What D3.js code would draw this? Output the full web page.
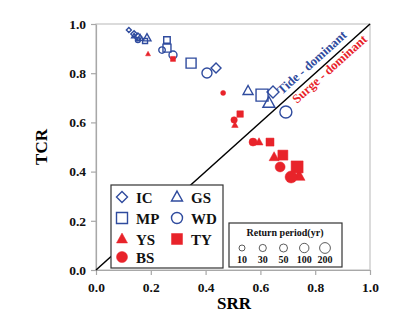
<!DOCTYPE html>
<html>
<head>
<meta charset="utf-8">
<script src="https://cdn.jsdelivr.net/npm/d3@7"></script>
<style>
  body { margin: 0; background: #fff; }
  text { font-family: "Liberation Serif", "Times New Roman", serif; font-weight: bold; }
</style>
</head>
<body>
<div id="chart"></div>
<script>
// return periods (yr) shared by every series, smallest marker first
const periods = [10, 30, 50, 100, 200];

// SRR / TCR pairs per sea area, ordered by return period
const icSRR = [0.120, 0.139, 0.153, 0.438, 0.646];
const icTCR = [0.976, 0.959, 0.947, 0.821, 0.724];
const gsSRR = [0.139, 0.161, 0.186, 0.555, 0.631];
const gsTCR = [0.951, 0.943, 0.943, 0.728, 0.679];
const mpSRR = [0.179, 0.259, 0.259, 0.347, 0.606];
const mpTCR = [0.931, 0.935, 0.902, 0.841, 0.711];
const wdSRR = [0.153, 0.241, 0.281, 0.405, 0.693];
const wdTCR = [0.935, 0.894, 0.874, 0.801, 0.642];
const ysSRR = [0.190, 0.507, 0.595, 0.650, 0.741];
const ysTCR = [0.878, 0.589, 0.520, 0.459, 0.382];
const tySRR = [0.281, 0.526, 0.635, 0.682, 0.734];
const tyTCR = [0.858, 0.634, 0.520, 0.467, 0.419];
const bsSRR = [0.464, 0.504, 0.573, 0.672, 0.712];
const bsTCR = [0.720, 0.610, 0.520, 0.419, 0.378];

const ticks = [0, 0.2, 0.4, 0.6, 0.8, 1.0];

const blue = "#2f4b9e", red = "#e8232a";
const series = [
  {name: "IC", shape: "diamond", color: blue, fill: false, x: icSRR, y: icTCR},
  {name: "GS", shape: "triangle", color: blue, fill: false, x: gsSRR, y: gsTCR},
  {name: "MP", shape: "square", color: blue, fill: false, x: mpSRR, y: mpTCR},
  {name: "WD", shape: "circle", color: blue, fill: false, x: wdSRR, y: wdTCR},
  {name: "YS", shape: "triangle", color: red, fill: true, x: ysSRR, y: ysTCR},
  {name: "TY", shape: "square", color: red, fill: true, x: tySRR, y: tyTCR},
  {name: "BS", shape: "circle", color: red, fill: true, x: bsSRR, y: bsTCR}
];

const W = 400, H = 324;
const L = 96, R = 370, T = 24, B = 270;

const x = d3.scaleLinear().domain([0, 1]).range([L, R]);
const y = d3.scaleLinear().domain([0, 1]).range([B, T]);
const size = d3.scaleOrdinal().domain(periods).range([5, 6.5, 8, 10, 12]);

// path for a marker of visual width w
function shapePath(shape, w) {
  if (shape === "circle") return d3.symbol(d3.symbolCircle, Math.PI * w * w / 4)();
  if (shape === "square") return d3.symbol(d3.symbolSquare, w * w)();
  if (shape === "diamond") {
    const h = w / 2;
    return `M0,${-h}L${h},0L0,${h}L${-h},0Z`;
  }
  const h = w * 0.9;
  return `M0,${-h * 0.6}L${w / 2},${h * 0.4}L${-w / 2},${h * 0.4}Z`;
}

const svg = d3.select("#chart").append("svg")
  .attr("width", W).attr("height", H);

// frame
svg.append("rect")
  .attr("x", L).attr("y", T).attr("width", R - L).attr("height", B - T)
  .attr("fill", "none").attr("stroke", "#c4c4c4").attr("stroke-width", 1.2);

const xAxis = svg.append("g")
  .attr("transform", `translate(0,${B})`)
  .call(d3.axisBottom(x).tickValues(ticks).tickFormat(d3.format(".1f")).tickSizeOuter(0).tickSizeInner(5));
const yAxis = svg.append("g")
  .attr("transform", `translate(${L},0)`)
  .call(d3.axisLeft(y).tickValues(ticks).tickFormat(d3.format(".1f")).tickSizeOuter(0).tickSizeInner(5));

[xAxis, yAxis].forEach(g => {
  g.select(".domain").attr("stroke", "#a8a8a8").attr("stroke-width", 1.2);
  g.selectAll(".tick line").attr("stroke", "#a8a8a8").attr("stroke-width", 1.2);
  g.selectAll(".tick text").attr("fill", "#111")
    .style("font-size", "13.5px").style("font-family", "Liberation Serif").style("font-weight", "bold");
});
xAxis.selectAll(".tick text").attr("dy", "1.05em").attr("y", 8);
yAxis.selectAll(".tick text").attr("x", -10);

svg.append("text").attr("x", (L + R) / 2 + 1).attr("y", 309)
  .attr("text-anchor", "middle").attr("font-size", 17).text("SRR");
svg.append("text").attr("transform", `translate(47,${(T + B) / 2}) rotate(-90)`)
  .attr("text-anchor", "middle").attr("font-size", 17).text("TCR");

// 1:1 line
svg.append("line")
  .attr("x1", x(0)).attr("y1", y(0)).attr("x2", x(1)).attr("y2", y(1))
  .attr("stroke", "#000").attr("stroke-width", 1.5);

const ang = Math.atan2(B - T, R - L) * 180 / Math.PI;
svg.append("text").attr("transform", `translate(282,95) rotate(${-ang})`)
  .attr("fill", blue).attr("font-size", 12.8).text("Tide - dominant");
svg.append("text").attr("transform", `translate(297,104) rotate(${-ang})`)
  .attr("fill", red).attr("font-size", 12.8).text("Surge - dominant");

// points
series.forEach(s => {
  svg.append("g").selectAll("path")
    .data(periods.map((p, i) => ({p, sx: s.x[i], ty: s.y[i]})))
    .join("path")
    .attr("transform", d => `translate(${x(d.sx)},${y(d.ty)})`)
    .attr("d", d => shapePath(s.shape, size(d.p)))
    .attr("fill", s.fill ? s.color : "none")
    .attr("stroke", s.color)
    .attr("stroke-width", s.fill ? 0.5 : 1.4);
});

// legend of sea areas
const lg = svg.append("g");
lg.append("rect").attr("x", 111).attr("y", 185).attr("width", 112).attr("height", 83)
  .attr("fill", "#fff").attr("stroke", "#333").attr("stroke-width", 1.2);
const legendPos = {
  IC: [122, 197], GS: [177, 197], MP: [122, 218], WD: [177, 218],
  YS: [122, 239], TY: [177, 239], BS: [122, 257]
};
series.forEach(s => {
  const [lx, ly] = legendPos[s.name];
  lg.append("path").attr("transform", `translate(${lx},${ly})`)
    .attr("d", shapePath(s.shape, 11))
    .attr("fill", s.fill ? s.color : "none")
    .attr("stroke", s.color).attr("stroke-width", s.fill ? 0.5 : 1.4);
  lg.append("text").attr("x", lx + 14).attr("y", ly + 5.5)
    .attr("font-size", 15).attr("fill", "#111").text(s.name);
});

// legend of return periods
const rg = svg.append("g");
rg.append("rect").attr("x", 229).attr("y", 223).attr("width", 113).attr("height", 44)
  .attr("fill", "#fff").attr("stroke", "#333").attr("stroke-width", 1.2);
rg.append("text").attr("x", 285).attr("y", 236).attr("text-anchor", "middle")
  .attr("font-size", 10).attr("fill", "#111").text("Return period(yr)");
const rx = d3.scalePoint().domain(periods).range([242, 325]);
const rr = d3.scaleOrdinal().domain(periods).range([3, 3.6, 4, 4.7, 5.4]);
rg.selectAll("circle").data(periods).join("circle")
  .attr("cx", d => rx(d)).attr("cy", 248).attr("r", d => rr(d))
  .attr("fill", "none").attr("stroke", "#333").attr("stroke-width", 0.8);
rg.selectAll("text.rp").data(periods).join("text").attr("class", "rp")
  .attr("x", d => rx(d)).attr("y", 263).attr("text-anchor", "middle")
  .attr("font-size", 10).attr("fill", "#111").text(d => d);
</script>
</body>
</html>
